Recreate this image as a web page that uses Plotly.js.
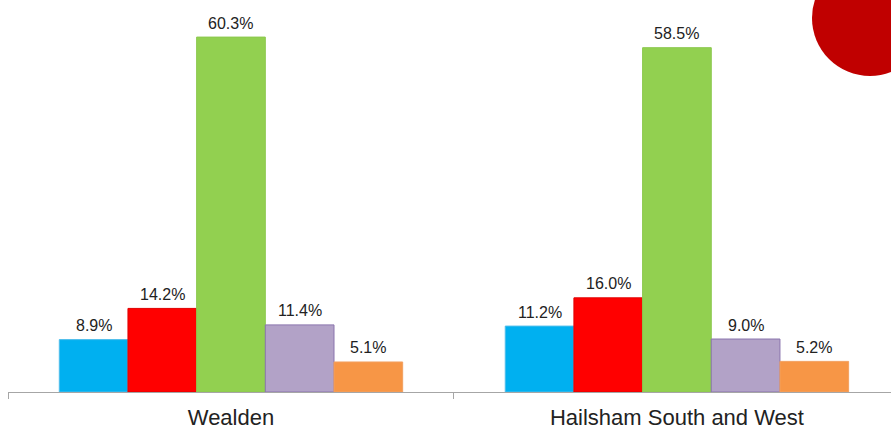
<!DOCTYPE html>
<html>
<head>
<meta charset="utf-8">
<script src="https://cdn.plot.ly/plotly-3.0.1.min.js"></script>
<style>html,body{margin:0;padding:0;background:#fff;}#chart{width:891px;height:432px;}</style>
</head>
<body>
<div id="chart"></div>
<script>
const categories = ["Wealden", "Hailsham South and West"];
const seriesNames = ["Series 1", "Series 2", "Series 3", "Series 4", "Series 5"];
const seriesValues = [
  [8.9, 11.2],
  [14.2, 16.0],
  [60.3, 58.5],
  [11.4, 9.0],
  [5.1, 5.2]
];
const seriesColors = ["#00B0F0", "#FF0000", "#92D050", "#B2A2C7", "#F79646"];
const lineColors = ["#4FBDEB", "#E00000", "#8CC84E", "#8A75AD", "#F2A060"];

const traces = seriesValues.map((vals, i) => ({
  type: "bar",
  name: seriesNames[i],
  x: categories,
  y: vals,
  marker: {color: seriesColors[i], line: {color: lineColors[i], width: 1}},
  hoverinfo: "none"
}));

const nS = seriesValues.length;
const groupFrac = 0.77;
const barW = groupFrac / nS;
const annotations = [];
seriesValues.forEach((vals, i) => {
  vals.forEach((v, j) => {
    annotations.push({
      x: j - groupFrac / 2 + barW * (i + 0.5),
      y: v,
      xref: "x", yref: "y",
      text: v.toFixed(1) + "%",
      showarrow: false,
      yanchor: "middle",
      yshift: 14,
      font: {family: "Liberation Sans, Arial, sans-serif", size: 16, color: "#222"}
    });
  });
});

const layout = {
  width: 891, height: 432,
  margin: {l: 8, r: 0, t: 0, b: 40},
  paper_bgcolor: "#fff", plot_bgcolor: "#fff",
  showlegend: false,
  barmode: "group",
  bargap: 1 - groupFrac,
  bargroupgap: 0,
  xaxis: {
    type: "category",
    range: [-0.5, 1.48],
    showline: true, linecolor: "#A6A6A6", linewidth: 1,
    ticks: "outside", tickson: "boundaries", ticklen: 6, tickcolor: "#A6A6A6",
    ticklabelstandoff: 6,
    showgrid: false, zeroline: false,
    automargin: false,
    tickfont: {family: "Liberation Sans, Arial, sans-serif", size: 22, color: "#222"}
  },
  yaxis: {
    range: [0, 66.6],
    visible: false, showgrid: false, zeroline: false
  },
  annotations: annotations,
  shapes: [{
    type: "circle", xref: "paper", yref: "paper",
    x0: (812 - 8) / 883, x1: (928 - 8) / 883,
    y0: (392 - 76) / 392, y1: (392 + 40) / 392,
    fillcolor: "#C00000", line: {width: 0}, layer: "above"
  }]
};

Plotly.newPlot("chart", traces, layout, {displayModeBar: false, staticPlot: true});
</script>
</body>
</html>
